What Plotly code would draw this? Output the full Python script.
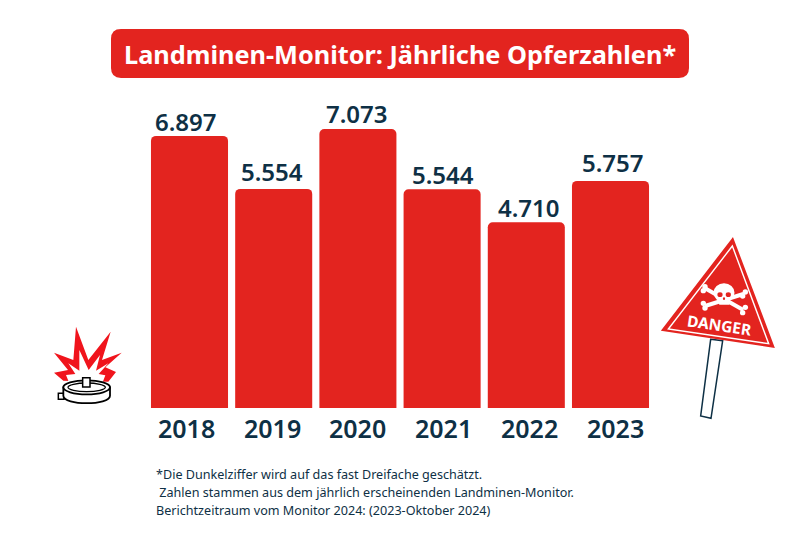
import plotly.graph_objects as go

years = ["2018", "2019", "2020", "2021", "2022", "2023"]
casualties = [6897, 5554, 7073, 5544, 4710, 5757]
title_text = "Landminen-Monitor: Jährliche Opferzahlen*"
footnotes = [
    "*Die Dunkelziffer wird auf das fast Dreifache geschätzt.",
    " Zahlen stammen aus dem jährlich erscheinenden Landminen-Monitor.",
    "Berichtzeitraum vom Monitor 2024: (2023-Oktober 2024)",
]
label_dx = [-3.5, -1.5, -0.5, 1, 2.5, 2]
label_dy = [-4, -1, -3, -4, -4, 0]
tick_dx = [-3, -1, 0, 1.5, 3.5, 4.5]
RED = "#E3241F"
DARK = "#0E3045"
FONT = "Noto Sans"
W, H = 800, 533


def X(p):
    return p / W


def Y(p):
    return 1 - p / H


def path(*cmds):
    """Build an SVG path from pixel coordinates on the 800x533 canvas."""
    out = []
    for c in cmds:
        if isinstance(c, str):
            out.append(c)
        else:
            out.append(f"{X(c[0]):.5f},{Y(c[1]):.5f}")
    return " ".join(out)


def poly(points):
    cmds = ["M", points[0]]
    for p in points[1:]:
        cmds += ["L", p]
    cmds.append("Z")
    return path(*cmds)


shapes = []


def add_path(d, fill=None, line=None, width=0):
    shapes.append(dict(type="path", xref="paper", yref="paper", path=d,
                       fillcolor=fill if fill else "rgba(0,0,0,0)",
                       line=dict(color=line if line else "rgba(0,0,0,0)", width=width)))


def add_ellipse(cx, cy, rx, ry, fill=None, line=None, width=0):
    shapes.append(dict(type="circle", xref="paper", yref="paper",
                       x0=X(cx - rx), x1=X(cx + rx), y0=Y(cy + ry), y1=Y(cy - ry),
                       fillcolor=fill if fill else "rgba(0,0,0,0)",
                       line=dict(color=line if line else "rgba(0,0,0,0)", width=width)))


def rounded_rect(x0, y0, x1, y1, r):
    return path("M", (x0 + r, y0), "L", (x1 - r, y0), "Q", (x1, y0), (x1, y0 + r),
                "L", (x1, y1 - r), "Q", (x1, y1), (x1 - r, y1),
                "L", (x0 + r, y1), "Q", (x0, y1), (x0, y1 - r),
                "L", (x0, y0 + r), "Q", (x0, y0), (x0 + r, y0), "Z")


# title pill
add_path(rounded_rect(111, 29, 689, 78, 10), fill=RED)


def z1(x, y):  # sign zoom crop to canvas
    return (640 + x / 3, 220 + y / 3)


def z2(x, y):  # mine zoom crop to canvas
    return (40 + x / 3, 310 + y / 3)


# danger sign post
add_path(poly([z1(212, 358), z1(248, 362), z1(213, 595), z1(182, 588)]),
         fill="white", line=DARK, width=1.5)
# danger sign
add_path(poly([z1(278, 57), z1(68, 330), z1(400, 380)]), fill=RED, line=RED, width=2)
add_path(poly([z1(277, 78), z1(85, 327), z1(386, 371)]), line="white", width=1.4)
# crossbones
for a, b in [((195, 205), (310, 270)), ((310, 222), (195, 258))]:
    add_path(path("M", z1(*a), "L", z1(*b)), line="white", width=4)
for p in [(195, 200), (190, 212), (316, 262), (308, 278), (316, 216), (308, 228), (190, 250), (195, 264)]:
    c = z1(*p)
    add_ellipse(c[0], c[1], 2.7, 2.7, fill="white")
# skull
c = z1(252, 218)
add_ellipse(c[0], c[1], 10.5, 9.5, fill="white")
add_path(poly([z1(232, 232), z1(272, 232), z1(268, 254), z1(238, 254)]), fill="white")
for p in [(240, 224), (265, 224)]:
    c = z1(*p)
    add_ellipse(c[0], c[1], 2.6, 2.4, fill=RED)
c = z1(252, 236)
add_ellipse(c[0], c[1], 1.1, 1.4, fill=RED)

# explosion
star = [(42, 128), (100, 150), (108, 50), (145, 150), (212, 65), (186, 150), (245, 128),
        (196, 172), (228, 186), (205, 215), (70, 212), (42, 188), (84, 180)]
add_path(poly([z2(*p) for p in star]), fill="#F0141C")
inner = [(85, 160), (118, 182), (118, 120), (146, 180), (180, 135), (168, 182), (205, 160),
         (176, 192), (196, 196), (185, 225), (90, 225), (78, 195), (106, 192)]
add_path(poly([z2(*p) for p in inner]), fill="white")
# mine body
c = z2(140, 232)
l, r, t, b = z2(70, 232)[0], z2(210, 232)[0], c[1], z2(0, 272)[1]
add_path(poly([z2(55, 250), z2(72, 250), z2(72, 268), z2(55, 268)]), fill="white", line="black", width=1.5)
add_path(path("M", (l, t), "L", (l, b - 5), "C", (l, b + 5), (r, b + 5), (r, b - 5), "L", (r, t), "Z"),
         fill="white", line="black", width=1.8)
add_ellipse(c[0], c[1], 70 / 3, 21 / 3, fill="white", line="black", width=1.8)
add_ellipse(c[0], c[1], 56 / 3, 13 / 3, fill="white", line="black", width=1.3)
add_path(poly([z2(128, 203), z2(150, 203), z2(150, 231), z2(128, 231)]), fill="white", line="black", width=1.5)

annotations = [
    dict(text=title_text, x=X(400), y=Y(54), xref="paper", yref="paper", showarrow=False,
         font=dict(family=FONT, size=25.3, color="white", weight=700), xanchor="center", yanchor="middle"),
    dict(text="DANGER", x=X(719.5), y=Y(325), xref="paper", yref="paper", showarrow=False, textangle=8.5,
         font=dict(family=FONT, size=15.5, color="white", weight=700), xanchor="center", yanchor="middle"),
]
for line, yp in zip(footnotes, [474, 492, 510]):
    annotations.append(dict(text=line.replace(" ", "\u00a0", 1) if line.startswith(" ") else line,
                            x=X(153.5), y=Y(yp), xref="paper", yref="paper", showarrow=False,
                            font=dict(family=FONT, size=12.6, color=DARK),
                            xanchor="left", yanchor="middle"))
for i, v in enumerate(casualties):
    annotations.append(dict(text=f"{v:,}".replace(",", "."), x=i, y=v, xref="x", yref="y",
                            showarrow=False, yanchor="bottom", xshift=label_dx[i], yshift=label_dy[i],
                            font=dict(family=FONT, size=24, color=DARK, weight=600)))
for i, yr in enumerate(years):
    annotations.append(dict(text=yr, x=i, y=0, xref="x", yref="y", showarrow=False, yanchor="top",
                            xshift=tick_dx[i], yshift=-1,
                            font=dict(family=FONT, size=25, color=DARK, weight=600)))

fig = go.Figure(go.Bar(
    x=years, y=casualties, marker=dict(color=RED, line=dict(width=0)), width=0.915,
    hoverinfo="skip",
))
fig.update_layout(
    width=W, height=H, autosize=False, margin=dict(l=0, r=0, t=0, b=0),
    paper_bgcolor="white", plot_bgcolor="white",
    barcornerradius=5, showlegend=False, shapes=shapes, annotations=annotations,
    xaxis=dict(domain=[X(147.4), X(652.6)], type="category", range=[-0.5, 5.5], automargin=False,
               showgrid=False, zeroline=False, showline=False, ticks="", showticklabels=False),
    yaxis=dict(domain=[Y(408), Y(100)], range=[0, 7807], visible=False, showgrid=False, zeroline=False),
)
fig.write_html("out.html", config={"displayModeBar": False},
               post_script="document.body.style.margin='0';document.body.style.overflow='hidden';")
